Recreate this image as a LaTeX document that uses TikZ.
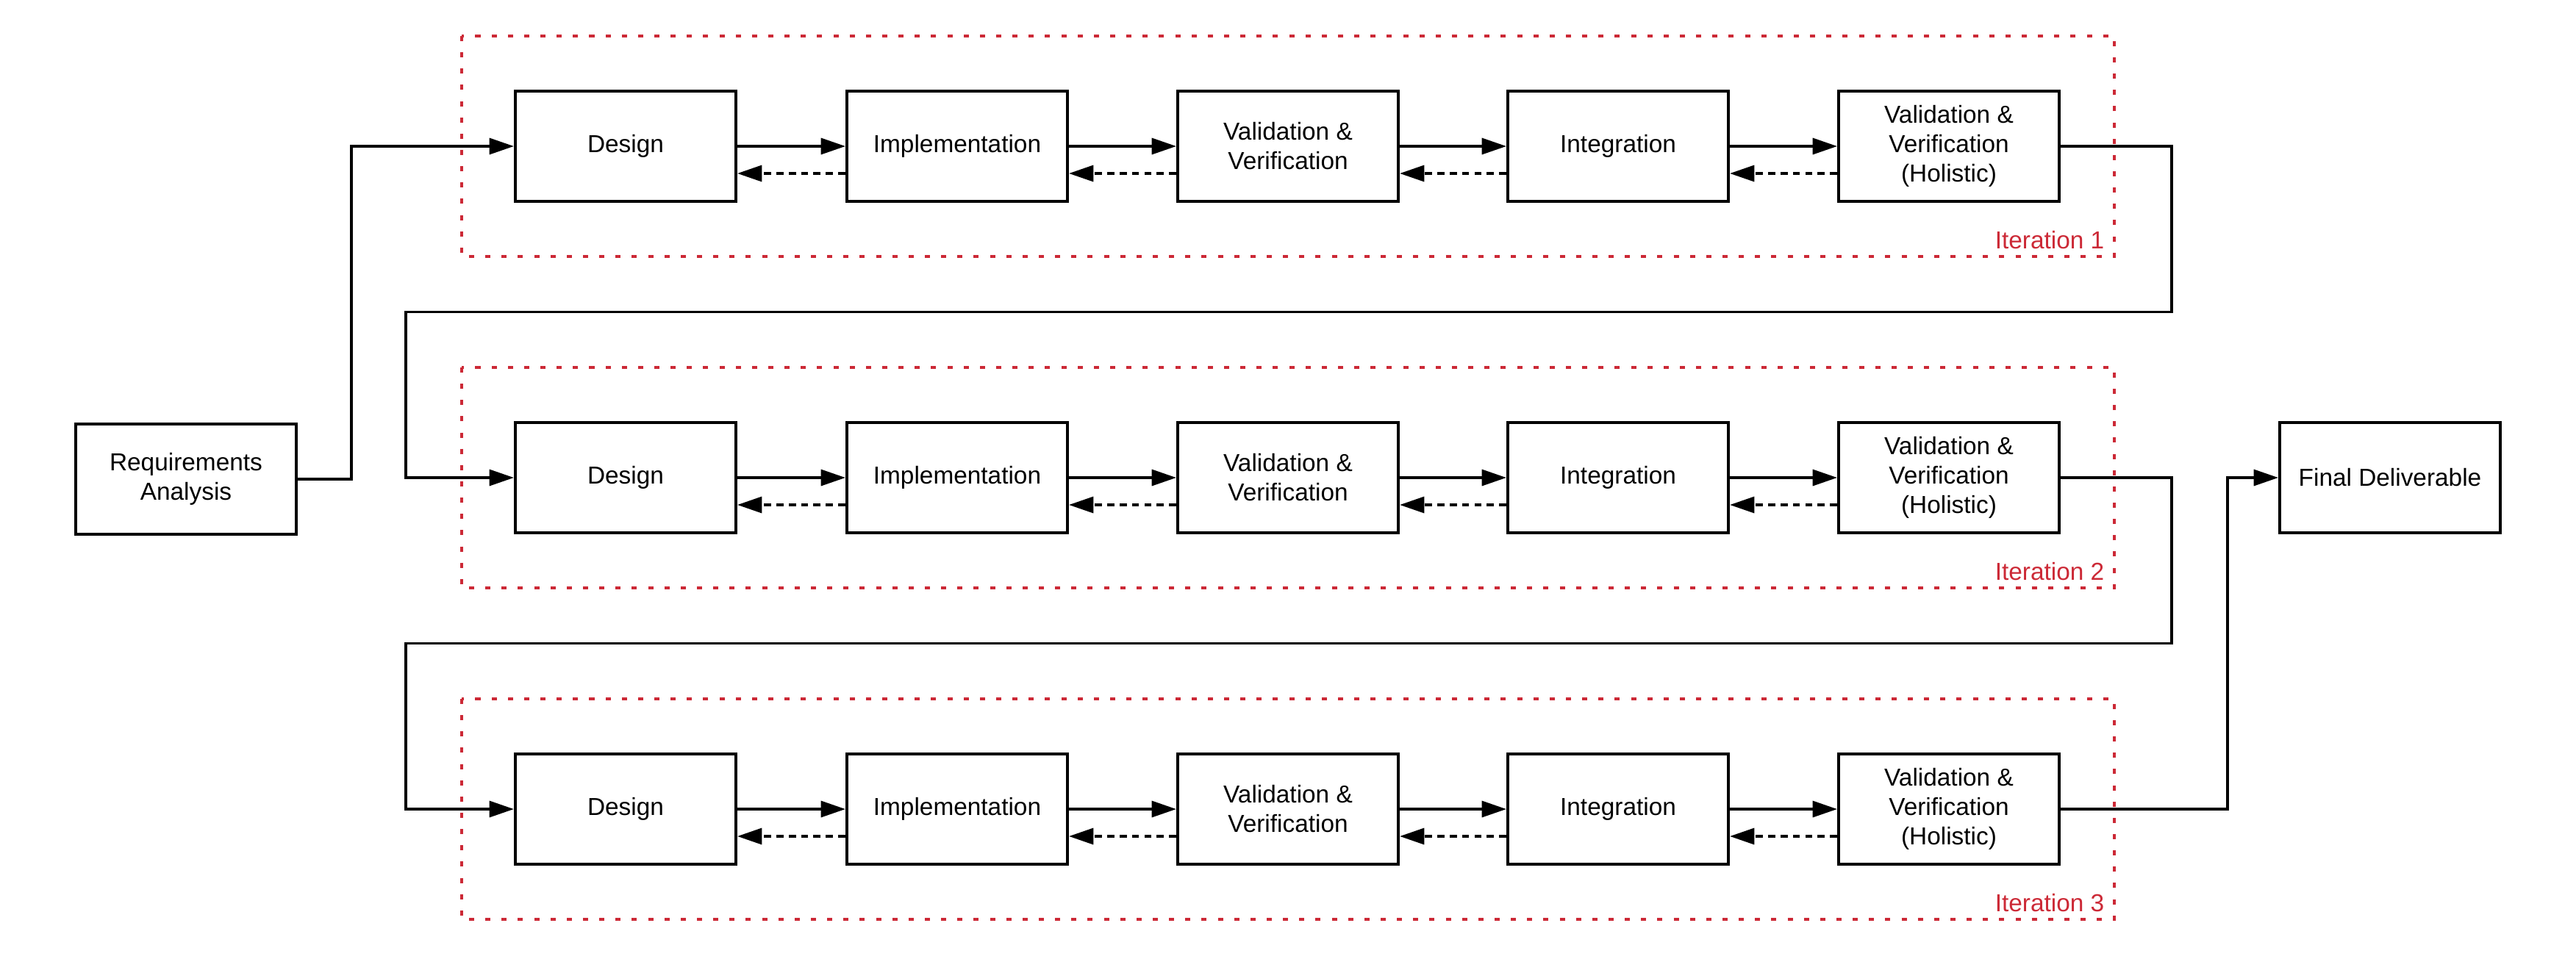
\documentclass[tikz,border=0pt]{standalone}
\usepackage{fontspec}
\setmainfont{Liberation Sans}
\usepackage{xcolor}
\usetikzlibrary{arrows.meta,positioning,calc}
\definecolor{iterred}{RGB}{204,41,54}

\begin{document}
\begin{tikzpicture}[
    blk/.style={draw, line width=1.1pt, minimum width=3cm, minimum height=1.5cm,
        align=center, font=\fontsize{9.5}{11.4}\selectfont},
    fwd/.style={line width=1.1pt, -{Triangle[length=9.5pt,width=6.2pt]}},
    bwd/.style={fwd, dash pattern=on 2.8pt off 2pt},
    iter/.style={draw=iterred, line width=1.2pt, dash pattern=on 2pt off 4.3pt},
    itlabel/.style={text=iterred, anchor=base east, inner sep=0pt, font=\fontsize{9.5}{11.4}\selectfont}
]
    \useasboundingbox (0,0) rectangle (35.04,-13.04);

    % Start and end
    \node[blk] (req) at (2.53,-6.52) {Requirements\\Analysis};
    \node[blk] (fin) at (32.51,-6.50) {Final Deliverable};

    % Iterations
    \foreach \r/\y in {1/-1.99, 2/-6.50, 3/-11.01} {
        \draw[iter] (6.28,\y+1.5) rectangle (28.76,\y-1.5);
        \node[itlabel] (lab\r) at (28.63,\y-1.39) {Iteration \r};

        \node[blk] (d\r) at (8.51,\y) {Design};
        \node[blk] (i\r) at (13.02,\y) {Implementation};
        \node[blk] (v\r) at (17.52,\y) {Validation \&\\Verification};
        \node[blk] (g\r) at (22.01,\y) {Integration};
        \node[blk] (h\r) at (26.51,\y) {Validation \&\\Verification\\(Holistic)};

        \draw[fwd] (d\r.east) -- (i\r.west);
        \draw[fwd] (i\r.east) -- (v\r.west);
        \draw[fwd] (v\r.east) -- (g\r.west);
        \draw[fwd] (g\r.east) -- (h\r.west);
        \draw[bwd] ([yshift=-0.37cm]i\r.west) -- ([yshift=-0.37cm]d\r.east);
        \draw[bwd] ([yshift=-0.37cm]v\r.west) -- ([yshift=-0.37cm]i\r.east);
        \draw[bwd] ([yshift=-0.37cm]g\r.west) -- ([yshift=-0.37cm]v\r.east);
        \draw[bwd] ([yshift=-0.37cm]h\r.west) -- ([yshift=-0.37cm]g\r.east);
    }

    % Links between stages
    \draw[fwd] (req.east) -- ++(0.73,0) |- (d1.west);
    \draw[fwd] (h1.east) -- ++(1.51,0) |- (5.52,-4.245) |- (d2.west);
    \draw[fwd] (h2.east) -- ++(1.51,0) |- (5.52,-8.755) |- (d3.west);
    \draw[fwd] (h3.east) -- ++(2.27,0) |- (fin.west);
\end{tikzpicture}
\end{document}
